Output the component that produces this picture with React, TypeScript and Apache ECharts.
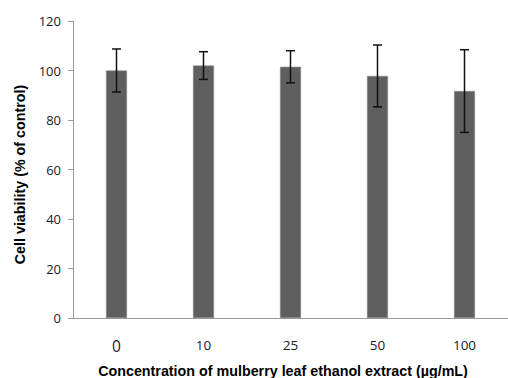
import React, { useEffect, useRef } from "react";
import * as echarts from "echarts";

const categories = ["0", "10", "25", "50", "100"];
const viability = [100, 102, 101.5, 97.8, 91.7];
const errors = [8.7, 5.6, 6.5, 12.5, 16.7];
const yTicks = [0, 20, 40, 60, 80, 100, 120];
const xTitle = "Concentration of mulberry leaf ethanol extract (µg/mL)";
const yTitle = "Cell viability (% of control)";

export default function App() {
  const ref = useRef<HTMLDivElement>(null);
  useEffect(() => {
    if (!ref.current) return;
    const chart = echarts.init(ref.current, undefined, { renderer: "svg" });
    const errData = viability.map((v, i) => [i, v - errors[i], v + errors[i]]);
    const titleStyle = { fontFamily: "Liberation Sans", fontWeight: "bold", fontSize: 14.3, fill: "#000" };
    chart.setOption({
      animation: false,
      grid: { left: 73, right: -2, top: 21, bottom: 60 },
      graphic: [
        {
          type: "text",
          x: 283,
          y: 370.5,
          style: { ...titleStyle, text: xTitle, align: "center", verticalAlign: "middle" },
        },
        {
          type: "text",
          x: 20,
          y: 174.5,
          rotation: Math.PI / 2,
          style: { ...titleStyle, text: yTitle, align: "center", verticalAlign: "middle" },
        },
      ],
      xAxis: {
        type: "category",
        data: categories,
        axisLine: { lineStyle: { color: "#9a9a9a", width: 1 } },
        axisTick: { show: false },
        axisLabel: {
          margin: 20,
          fontFamily: "Open Sans",
          fontSize: 13.5,
          color: "#1a1a2a",
          formatter: (v: string) => (v === "0" ? "{big|0}" : v),
          rich: { big: { fontFamily: "Open Sans", fontSize: 15.5, color: "#1a1a2a" } },
        },
      },
      yAxis: {
        type: "value",
        min: 0,
        max: 120,
        interval: 20,
        axisLine: { show: true, lineStyle: { color: "#9a9a9a", width: 1 } },
        axisTick: { show: true, length: 5, lineStyle: { color: "#9a9a9a" } },
        splitLine: { show: false },
        axisLabel: {
          margin: 12,
          fontFamily: "Open Sans",
          fontSize: 13,
          color: "#1a1a2a",
          formatter: (v: number) => (yTicks.includes(v) ? String(v) : ""),
        },
      },
      series: [
        {
          type: "bar",
          data: viability,
          barWidth: 21,
          itemStyle: { color: "#5f5f5f", borderColor: "#8a8a8a", borderWidth: 0.6 },
        },
        {
          type: "custom",
          data: errData,
          z: 10,
          renderItem: (params: any, api: any) => {
            const x = api.value(0);
            const lo = api.coord([x, api.value(1)]);
            const hi = api.coord([x, api.value(2)]);
            const cap = 4.5;
            const style = { stroke: "#111", lineWidth: 1.5 };
            return {
              type: "group",
              children: [
                { type: "line", shape: { x1: lo[0], y1: lo[1], x2: hi[0], y2: hi[1] }, style },
                { type: "line", shape: { x1: hi[0] - cap, y1: hi[1], x2: hi[0] + cap, y2: hi[1] }, style },
                { type: "line", shape: { x1: lo[0] - cap, y1: lo[1], x2: lo[0] + cap, y2: lo[1] }, style },
              ],
            };
          },
        },
      ],
    });
    return () => chart.dispose();
  }, []);
  return <div ref={ref} style={{ width: 508, height: 378, position: "absolute", left: 0, top: 0, background: "#fff" }} />;
}
